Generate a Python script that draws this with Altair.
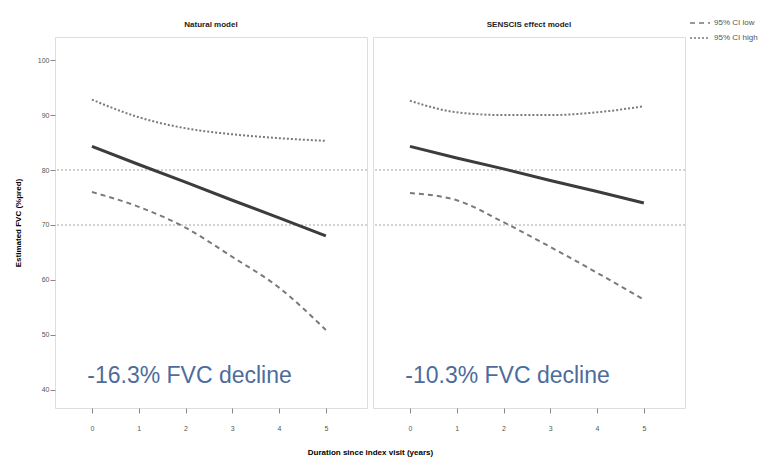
import altair as alt
import pandas as pd

# ---------------- data ----------------
years = [0, 1, 2, 3, 4, 5]

natural_mean = [84.3, 81.0, 77.8, 74.5, 71.3, 68.0]
natural_low = [76.0, 73.3, 69.5, 64.2, 58.6, 50.9]
natural_high = [92.8, 89.6, 87.6, 86.5, 85.8, 85.3]

senscis_mean = [84.3, 82.2, 80.2, 78.1, 76.1, 74.0]
senscis_low = [75.8, 74.5, 70.5, 66.0, 61.3, 56.4]
senscis_high = [92.6, 90.5, 90.0, 90.0, 90.5, 91.6]

panel_titles = ["Natural model", "SENSCIS effect model"]
notes = ["-16.3% FVC decline", "-10.3% FVC decline"]
note_x = [-0.1, -0.1]
note_y = [42.5, 42.5]

ref_levels = [70, 80]
y_ticks = [40, 50, 60, 70, 80, 90, 100]
x_ticks = [0, 1, 2, 3, 4, 5]

ci_names = ["95% CI low", "95% CI high"]

X_DOMAIN = [-0.79, 5.88]
Y_DOMAIN = [36.7, 104.2]
W, H = 312, 371


def ci_table(low, high):
    rows = []
    for name, vals in zip(ci_names, [low, high]):
        for yr, v in zip(years, vals):
            rows.append({"year": yr, "value": v, "series": name})
    return pd.DataFrame(rows)


def panel(mean, low, high, title, note, nx, ny, first):
    if first:
        x_axis = alt.Axis(
            values=x_ticks, title="Duration since index visit (years)",
            titleX=W + 3, titleAlign="center", titleFontSize=8, titleFontWeight="bold",
            titlePadding=17, labelFontSize=7, labelColor="#555", tickSize=5,
            labelPadding=11, grid=False, domain=False, tickColor="#888",
        )
        y_axis = alt.Axis(
            values=y_ticks, title="Estimated FVC (%pred)", titleFontSize=8,
            titleFontWeight="bold", titlePadding=15, labelFontSize=7,
            labelColor="#555", tickSize=5, labelPadding=1, grid=False,
            domain=False, tickColor="#888",
        )
    else:
        x_axis = alt.Axis(
            values=x_ticks, title=None, labelFontSize=7, labelColor="#555",
            tickSize=5, labelPadding=11, grid=False, domain=False, tickColor="#888",
        )
        y_axis = None

    xs = alt.Scale(domain=X_DOMAIN, nice=False, zero=False)
    ys = alt.Scale(domain=Y_DOMAIN, nice=False, zero=False)

    refs = alt.Chart(pd.DataFrame({"ref": ref_levels})).mark_rule(
        strokeDash=[2, 2], color="#c4c4c4", strokeWidth=1.5
    ).encode(y=alt.Y("ref:Q", scale=ys, axis=y_axis))

    ci = alt.Chart(ci_table(low, high)).mark_line(
        interpolate="monotone", color="#7a7a7a", strokeWidth=2
    ).encode(
        x=alt.X("year:Q", scale=xs, axis=x_axis),
        y=alt.Y("value:Q", scale=ys, axis=y_axis),
        strokeDash=alt.StrokeDash(
            "series:N",
            scale=alt.Scale(domain=ci_names, range=[[5, 4], [2, 2]]),
            legend=alt.Legend(
                title=None, orient="none",
                legendX=634, legendY=-25, labelFontSize=8, labelColor="#555",
                symbolType="stroke", symbolSize=400, symbolStrokeWidth=1.5,
                symbolStrokeColor="#777", rowPadding=0, labelOffset=3,
                padding=0,
            ),
        ),
    )

    est = alt.Chart(pd.DataFrame({"year": years, "value": mean})).mark_line(
        color="#3c3c3c", strokeWidth=3
    ).encode(
        x=alt.X("year:Q", scale=xs, axis=x_axis),
        y=alt.Y("value:Q", scale=ys, axis=y_axis),
    )

    text = alt.Chart(pd.DataFrame({"x": [nx], "y": [ny], "t": [note]})).mark_text(
        align="left", baseline="middle", fontSize=23,
        font="Liberation Sans", color="#4d6c9c",
    ).encode(x=alt.X("x:Q", scale=xs), y=alt.Y("y:Q", scale=ys), text="t:N")

    return alt.layer(refs, ci, est, text).properties(
        width=W, height=H,
        title=alt.TitleParams(title, fontSize=8, fontWeight="bold", offset=8, color="#222"),
    )


p1 = panel(natural_mean, natural_low, natural_high, panel_titles[0], notes[0], note_x[0], note_y[0], True)
p2 = panel(senscis_mean, senscis_low, senscis_high, panel_titles[1], notes[1], note_x[1], note_y[1], False)

chart = alt.hconcat(p1, p2, spacing=6, bounds="flush").properties(
    padding={"left": 13, "top": 12, "right": 0, "bottom": 0},
    background="white",
).configure_view(stroke="#8f8f8f", strokeWidth=2).configure(
    font="Liberation Sans"
)

chart.save("out.html", embed_options={"renderer": "svg", "actions": False})
